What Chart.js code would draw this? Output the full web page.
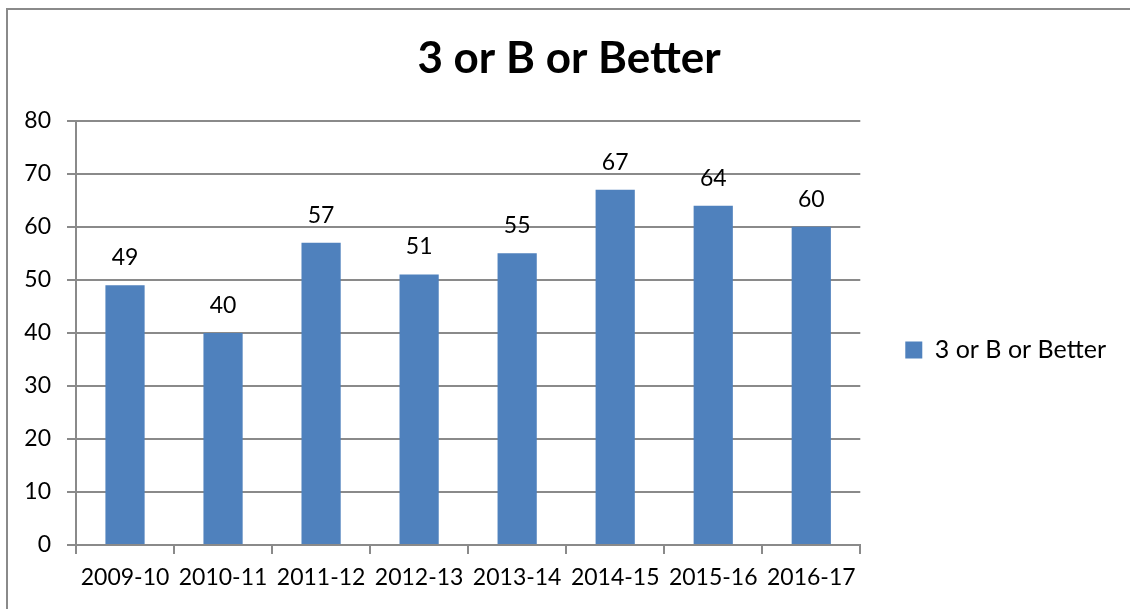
<!DOCTYPE html>
<html>
<head>
<meta charset="utf-8">
<script src="https://cdn.jsdelivr.net/npm/chart.js@4.4.1/dist/chart.umd.min.js"></script>
<style>
    html, body { margin: 0; overflow: hidden; background: #fff; }
    #wrap { position: absolute; left: 0; top: 0; width: 1130px; height: 609px; }
</style>
</head>
<body>
<div id="wrap"><canvas id="chart"></canvas></div>
<script>
const seasons = ['2009-10', '2010-11', '2011-12', '2012-13', '2013-14', '2014-15', '2015-16', '2016-17'];
const scores = [49, 40, 57, 51, 55, 67, 64, 60];
const yTicks = [0, 10, 20, 30, 40, 50, 60, 70, 80];

const FONT = 'Lato, "Liberation Sans", sans-serif';
const GRID = '#8a8a8a';

// grey frame along the top and left edge
const frame = {
    id: 'frame',
    beforeDraw(chart) {
        const ctx = chart.ctx;
        ctx.save();
        ctx.fillStyle = GRID;
        ctx.fillRect(6, 8, chart.width, 2);
        ctx.fillRect(6, 8, 2, chart.height);
        ctx.restore();
    }
};

// numbers above the bars
const barLabels = {
    id: 'barLabels',
    afterDatasetsDraw(chart) {
        const ctx = chart.ctx;
        ctx.save();
        ctx.font = '23px ' + FONT;
        ctx.fillStyle = '#000';
        ctx.textAlign = 'center';
        ctx.textBaseline = 'bottom';
        chart.getDatasetMeta(0).data.forEach((bar, i) => {
            ctx.fillText(scores[i], bar.x, bar.y - 16);
        });
        ctx.restore();
    }
};

// move the legend down a little, like Excel does
const legendShift = {
    id: 'legendShift',
    afterLayout(chart) {
        chart.legend.top += 34;
    }
};

new Chart(document.getElementById('chart'), {
    type: 'bar',
    data: {
        labels: seasons,
        datasets: [{
            label: '3 or B or Better',
            data: scores,
            backgroundColor: '#4F81BD',
            borderWidth: 0,
            barPercentage: 0.4,
            categoryPercentage: 1
        }]
    },
    options: {
        responsive: true,
        maintainAspectRatio: false,
        animation: false,
        layout: { padding: { left: 22, right: 14, top: 0, bottom: 0 } },
        plugins: {
            title: {
                display: true,
                text: '3 or B or Better',
                color: '#000',
                font: { family: FONT, size: 44, weight: 'bold' },
                padding: { top: 32, bottom: 36 }
            },
            legend: {
                position: 'right',
                fullSize: false,
                labels: {
                    color: '#000',
                    font: { family: FONT, size: 25 },
                    boxWidth: 17,
                    boxHeight: 17,
                    padding: 45
                }
            },
            tooltip: { enabled: false }
        },
        scales: {
            x: {
                grid: { display: true, drawOnChartArea: false, offset: true, color: GRID, lineWidth: 2, tickLength: 9 },
                border: { color: GRID, width: 2 },
                ticks: { color: '#000', font: { family: FONT, size: 23 }, padding: 10, maxRotation: 0 },
                afterFit(scale) { scale.height = 64; }
            },
            y: {
                min: 0,
                max: 80,
                afterBuildTicks(scale) { scale.ticks = yTicks.map(v => ({ value: v })); },
                grid: { color: GRID, lineWidth: 2, tickLength: 9 },
                border: { color: GRID, width: 2 },
                ticks: { color: '#000', font: { family: FONT, size: 23 }, padding: 16 },
                afterFit(scale) { scale.width = 54; }
            }
        }
    },
    plugins: [frame, barLabels, legendShift]
});
</script>
</body>
</html>
